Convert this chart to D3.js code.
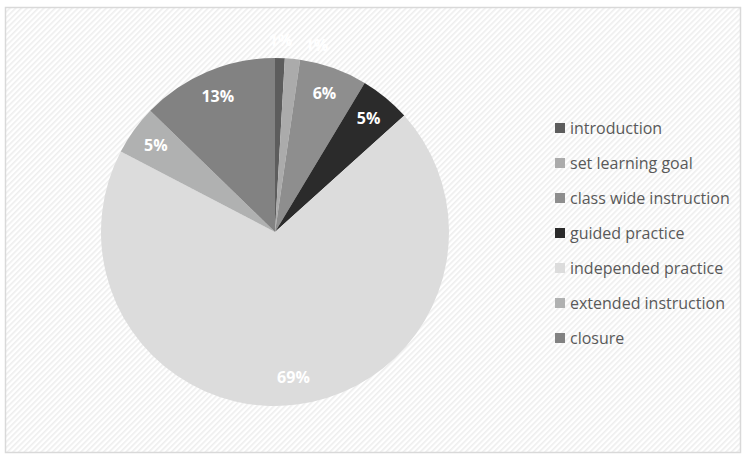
<!DOCTYPE html>
<html>
<head>
<meta charset="utf-8">
<script src="https://cdn.jsdelivr.net/npm/d3@7"></script>
<style>
  body { margin: 0; background: #fff; }
</style>
</head>
<body>
<svg id="PieChart"></svg>
<script>
// values (percent of lesson time)
const categories = ["introduction", "set learning goal", "class wide instruction", "guided practice",
                    "independed practice", "extended instruction", "closure"]
const shares = [0.9, 1.4, 6.3, 4.7, 69.2, 4.6, 12.7]
const sliceColors = ["#5d5d5d", "#ababab", "#8e8e8e", "#2b2b2b", "#dcdcdc", "#b0b1b1", "#828282"]

var dimensions = {
    width: 744,
    height: 455,
    cx: 275,
    cy: 232,
    radius: 174
}

var data = categories.map((c, i) => ({ name: c, value: shares[i], color: sliceColors[i] }))

var svg = d3.select("#PieChart")
            .attr("width", dimensions.width)
            .attr("height", dimensions.height)

// hatched chart background
var defs = svg.append("defs")
var pattern = defs.append("pattern")
                  .attr("id", "hatch")
                  .attr("patternUnits", "userSpaceOnUse")
                  .attr("width", 4)
                  .attr("height", 4)
                  .attr("patternTransform", "rotate(-45)")
pattern.append("rect").attr("width", 4).attr("height", 4).attr("fill", "#ffffff")
pattern.append("rect").attr("width", 4).attr("height", 1.6).attr("fill", "#eeeeee")

svg.append("rect")
   .attr("x", 5.5)
   .attr("y", 7.5)
   .attr("width", 735)
   .attr("height", 445)
   .attr("fill", "url(#hatch)")
   .attr("stroke", "#d9d9d9")
   .attr("stroke-width", 1.5)

var pie = d3.pie().value(d => d.value).sort(null)
var arcs = pie(data)

var arcGen = d3.arc().innerRadius(0).outerRadius(dimensions.radius)

var pieGroup = svg.append("g")
                  .attr("transform", `translate(${dimensions.cx}, ${dimensions.cy})`)

pieGroup.selectAll("path")
        .data(arcs)
        .enter()
        .append("path")
        .attr("d", arcGen)
        .attr("fill", d => d.data.color)

// labels: inside for normal slices, outside for tiny ones (pushed apart)
var lastOutside = -Infinity
arcs.forEach(d => {
    var mid = (d.startAngle + d.endAngle) / 2
    var r = dimensions.radius * 0.845
    var small = d.data.value < 2
    if (small) {
        r = dimensions.radius * 1.1
        if (mid - lastOutside < 0.19) mid = lastOutside + 0.19
        lastOutside = mid
    }
    pieGroup.append("text")
            .attr("x", Math.sin(mid) * r)
            .attr("y", -Math.cos(mid) * r)
            .attr("dy", "0.35em")
            .attr("text-anchor", "middle")
            .attr("fill", "#ffffff")
            .style("font-family", "'Open Sans', sans-serif")
            .style("font-weight", "bold")
            .style("font-size", "16px")
            .text(Math.round(d.data.value) + "%")
})

// legend
var legend = svg.append("g")
                .attr("transform", "translate(555, 128)")

var legendSpacing = 35
var legendRectSize = 10

legend.selectAll("rect")
      .data(data)
      .enter()
      .append("rect")
      .attr("x", 0)
      .attr("y", (d, i) => i * legendSpacing - legendRectSize / 2)
      .attr("width", legendRectSize)
      .attr("height", legendRectSize)
      .attr("fill", d => d.color)

legend.selectAll("text")
      .data(data)
      .enter()
      .append("text")
      .attr("x", legendRectSize + 5)
      .attr("y", (d, i) => i * legendSpacing)
      .attr("dy", "0.35em")
      .attr("fill", "#595959")
      .style("font-family", "'Open Sans', sans-serif")
      .style("font-size", "16px")
      .text(d => d.name)
</script>
</body>
</html>
